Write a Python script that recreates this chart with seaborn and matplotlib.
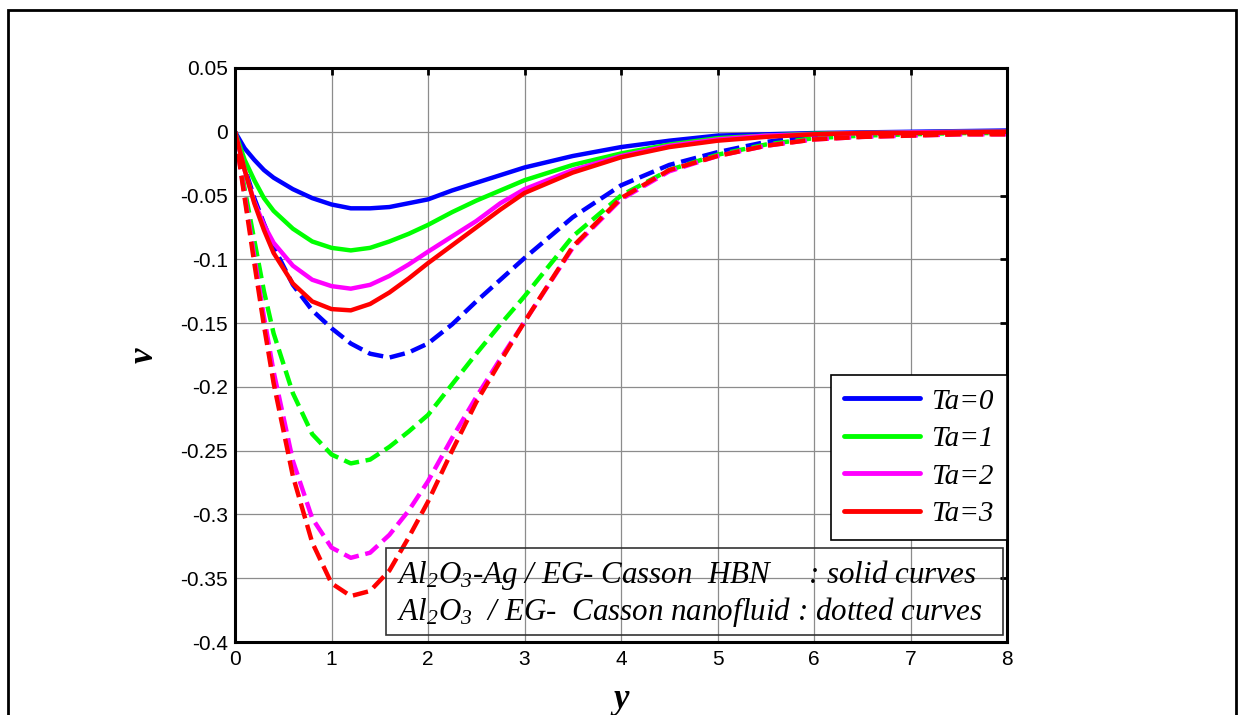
import numpy as np
import pandas as pd
import seaborn as sns
import matplotlib
matplotlib.use("Agg")
import matplotlib.pyplot as plt
from matplotlib.patches import Rectangle
from matplotlib.lines import Line2D

# ---------------- data ----------------
eta = [0, 0.1, 0.2, 0.3, 0.4, 0.6, 0.8, 1.0, 1.2, 1.4, 1.6, 1.8, 2.0, 2.25, 2.5,
       2.75, 3.0, 3.5, 4.0, 4.5, 5.0, 5.5, 6.0, 6.5, 7.0, 7.5, 8.0]

hbn_ta0 = [0, -0.013, -0.022, -0.030, -0.036, -0.045, -0.052, -0.057, -0.060, -0.060,
           -0.059, -0.056, -0.053, -0.046, -0.040, -0.034, -0.028, -0.019, -0.012,
           -0.007, -0.003, -0.002, -0.001, -0.0005, 0.0, 0.0005, 0.001]
hbn_ta1 = [0, -0.022, -0.038, -0.052, -0.062, -0.076, -0.086, -0.091, -0.093, -0.091,
           -0.086, -0.080, -0.073, -0.063, -0.054, -0.046, -0.038, -0.026, -0.017,
           -0.010, -0.005, -0.003, -0.0015, -0.001, -0.0005, 0.0, 0.0]
hbn_ta2 = [0, -0.030, -0.055, -0.073, -0.087, -0.105, -0.116, -0.121, -0.123, -0.120,
           -0.113, -0.104, -0.094, -0.082, -0.070, -0.056, -0.045, -0.030, -0.019,
           -0.011, -0.006, -0.003, -0.002, -0.001, -0.0005, 0.0, 0.0]
hbn_ta3 = [0, -0.030, -0.056, -0.077, -0.095, -0.119, -0.133, -0.139, -0.140, -0.135,
           -0.126, -0.115, -0.103, -0.089, -0.075, -0.061, -0.048, -0.032, -0.020,
           -0.012, -0.007, -0.004, -0.002, -0.001, -0.001, -0.0005, 0.0]

nf_ta0 = [0, -0.028, -0.052, -0.072, -0.090, -0.120, -0.140, -0.154, -0.166, -0.174,
          -0.177, -0.173, -0.166, -0.151, -0.133, -0.116, -0.099, -0.067, -0.042,
          -0.026, -0.016, -0.008, -0.003, -0.002, -0.001, -0.001, -0.001]
nf_ta1 = [0, -0.045, -0.085, -0.125, -0.158, -0.205, -0.237, -0.253, -0.260, -0.257,
          -0.247, -0.235, -0.222, -0.198, -0.174, -0.151, -0.129, -0.082, -0.050,
          -0.030, -0.018, -0.010, -0.005, -0.003, -0.002, -0.001, -0.001]
nf_ta2 = [0, -0.050, -0.098, -0.145, -0.188, -0.258, -0.303, -0.326, -0.334, -0.330,
          -0.316, -0.297, -0.274, -0.240, -0.208, -0.178, -0.149, -0.091, -0.053,
          -0.031, -0.019, -0.011, -0.006, -0.004, -0.003, -0.002, -0.002]
nf_ta3 = [0, -0.052, -0.103, -0.152, -0.197, -0.270, -0.322, -0.354, -0.364, -0.360,
          -0.344, -0.318, -0.290, -0.250, -0.212, -0.180, -0.149, -0.090, -0.052,
          -0.030, -0.019, -0.011, -0.006, -0.004, -0.003, -0.002, -0.002]

ta_labels = ["Ta=0", "Ta=1", "Ta=2", "Ta=3"]
fluid_labels = ["HBN", "nanofluid"]
x_ticks = [0, 1, 2, 3, 4, 5, 6, 7, 8]
y_ticks = [0.05, 0, -0.05, -0.1, -0.15, -0.2, -0.25, -0.3, -0.35, -0.4]
y_tick_labels = ["0.05", "0", "-0.05", "-0.1", "-0.15", "-0.2", "-0.25", "-0.3", "-0.35", "-0.4"]

colors = ["#0000ff", "#00ff00", "#ff00ff", "#ff0000"]

# ---------------- build table ----------------
series = {("HBN", 0): hbn_ta0, ("HBN", 1): hbn_ta1, ("HBN", 2): hbn_ta2, ("HBN", 3): hbn_ta3,
          ("nanofluid", 0): nf_ta0, ("nanofluid", 1): nf_ta1, ("nanofluid", 2): nf_ta2,
          ("nanofluid", 3): nf_ta3}
rows = []
for (fl, ti), vals in series.items():
    for xv, yv in zip(eta, vals):
        rows.append({"eta": xv, "v": yv, "Ta": ta_labels[ti], "fluid": fl})
df = pd.DataFrame(rows)

# ---------------- plot ----------------
sns.set_theme(style="white")
plt.rcParams["font.family"] = ["Liberation Sans", "DejaVu Sans"]
plt.rcParams["axes.unicode_minus"] = False
plt.rcParams["text.color"] = "black"
plt.rcParams["axes.labelcolor"] = "black"
plt.rcParams["mathtext.fontset"] = "custom"
plt.rcParams["mathtext.rm"] = "Liberation Serif:italic"
plt.rcParams["mathtext.it"] = "Liberation Serif:italic"

fig = plt.figure(figsize=(12.44, 7.15), dpi=100)
ax = fig.add_axes([235 / 1244, 1 - 642 / 715, (1007 - 235) / 1244, (642 - 68) / 715])

# outer frame
fig.patches.append(Rectangle((8 / 1244, -0.05), (1236 - 8) / 1244, 1.05 - 10 / 715,
                             transform=fig.transFigure, fill=False, edgecolor="black",
                             linewidth=2, zorder=0))

sns.lineplot(data=df, x="eta", y="v", hue="Ta", style="fluid",
             palette=dict(zip(ta_labels, colors)),
             dashes={"HBN": "", "nanofluid": (3.5, 1.5)},
             linewidth=3.2, ax=ax, legend=False, sort=False)

ax.set_xlim(0, 8)
ax.set_ylim(-0.4, 0.05)
ax.set_xticks(x_ticks)
ax.set_xticklabels([str(t) for t in x_ticks])
ax.set_yticks(y_ticks)
ax.set_yticklabels(y_tick_labels)
ax.grid(True, color="#8c8c8c", linewidth=0.9)
ax.set_axisbelow(True)
for s in ax.spines.values():
    s.set_linewidth(2.2)
    s.set_color("black")
ax.tick_params(direction="in", length=5, width=2, top=True, right=True,
               labelsize=15, colors="black")
ax.tick_params(axis="y", pad=5)
ax.tick_params(axis="x", pad=6)

ax.set_xlabel("y", fontsize=25, fontweight="bold", fontstyle="italic",
              family="Liberation Serif", labelpad=10, color="black")
ax.set_ylabel("v", fontsize=25, fontweight="bold", fontstyle="italic",
              family="Liberation Serif", labelpad=14, color="black")

# legend
handles = [Line2D([0], [0], color=c, lw=3.5) for c in colors]
leg = ax.legend(handles, ta_labels, loc="upper right", bbox_to_anchor=(1.0, (642 - 375) / 574),
                frameon=True, fancybox=False, edgecolor="black", framealpha=1,
                prop={"family": "Liberation Serif", "style": "italic", "size": 21},
                handlelength=2.6, handletextpad=0.4, labelspacing=0.38, borderpad=0.45,
                borderaxespad=0, labelcolor="black")
leg.get_frame().set_linewidth(1.2)

# annotation box
ax.add_patch(Rectangle(((386 - 235) / 772, (642 - 635) / 574), (1003 - 386) / 772,
                       (635 - 548) / 574, transform=ax.transAxes, fill=True,
                       facecolor="none", edgecolor="#333333", linewidth=1.2, zorder=5))
txt_kw = dict(transform=ax.transAxes, fontsize=22.3, family="Liberation Serif",
              fontstyle="italic", ha="left", va="baseline", zorder=6, color="black")
ax.text((397 - 235) / 772, (642 - 583) / 574,
        r"Al$_2$O$_3$-Ag / EG- Casson  HBN     : solid curves", **txt_kw)
ax.text((397 - 235) / 772, (642 - 620) / 574,
        r"Al$_2$O$_3$  / EG-  Casson nanofluid : dotted curves", **txt_kw)

fig.savefig("out.png", dpi=100)
